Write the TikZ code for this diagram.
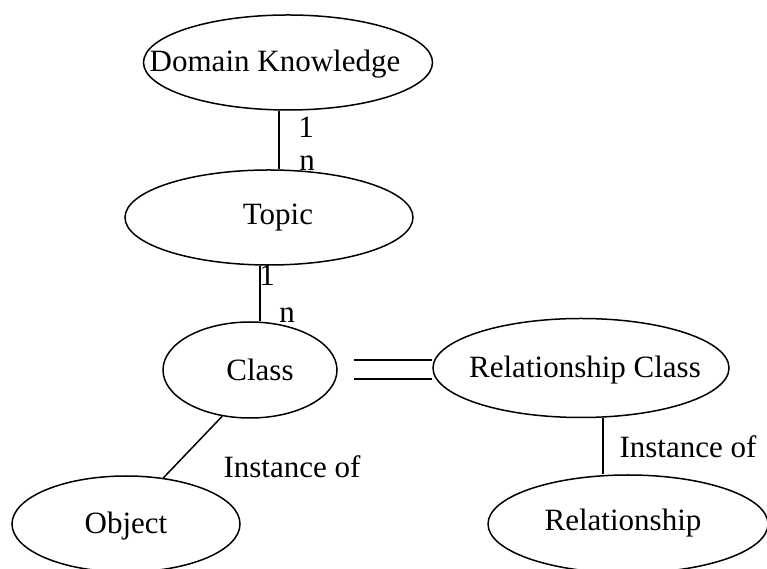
\documentclass[tikz,border=0pt]{standalone}
\usepackage{fontspec}
\setmainfont{Liberation Serif}
\usetikzlibrary{shapes.geometric}
\begin{document}
\begin{tikzpicture}[x=1pt,y=1pt,
  font=\fontsize{31}{37}\selectfont,
  ent/.style={draw, ellipse, line width=1.5pt, inner sep=0pt},
  conn/.style={line width=1.5pt},
  lbl/.style={inner sep=0pt, anchor=center}]
\useasboundingbox (0,0) rectangle (767,569);
% entities
\node[ent, minimum width=289, minimum height=95, label={[xshift=-13pt,yshift=-2pt]center:Domain Knowledge}] (dk) at (288,506.5) {};
\node[ent, minimum width=288, minimum height=95, label={[xshift=9pt]center:Topic}] (topic) at (269,351.5) {};
\node[ent, minimum width=174, minimum height=96, label={[xshift=10pt]center:Class}] (class) at (250,199) {};
\node[ent, minimum width=296, minimum height=99, label={[xshift=4pt,yshift=-2pt]center:Relationship Class}] (relc) at (581,201) {};
\node[ent, minimum width=228, minimum height=96, label={[yshift=-2pt]center:Object}] (object) at (126,45) {};
\node[ent, minimum width=280, minimum height=98, label={[xshift=-5pt,yshift=1pt]center:Relationship}] (rel) at (628,45) {};
% connector x positions
\coordinate (c1) at (279,0);
\coordinate (c2) at (260,0);
\coordinate (c3) at (603,0);
% connectors
\draw[conn] (dk.south -| c1) -- (topic.north -| c1);
\draw[conn] (topic.south -| c2) -- (class.north -| c2);
\draw[conn] ([xshift=16pt,yshift=10pt]class.east) -- ([yshift=8pt]relc.west);
\draw[conn] ([xshift=16pt,yshift=-9pt]class.east) -- ([yshift=-11pt]relc.west);
\draw[conn] (class.239) -- (object.51);
\draw[conn] (relc.south -| c3) -- (rel.north -| c3);
% cardinality and relation labels
\node[lbl] (l1) at (306,442) {1};
\node[lbl] (n1) at (307,406) {n};
\node[lbl] (l2) at (267,294) {1};
\node[lbl] (n2) at (287,254) {n};
\node[lbl] (i1) at (292,102) {Instance of};
\node[lbl] (i2) at (688,122) {Instance of};
\end{tikzpicture}
\end{document}
